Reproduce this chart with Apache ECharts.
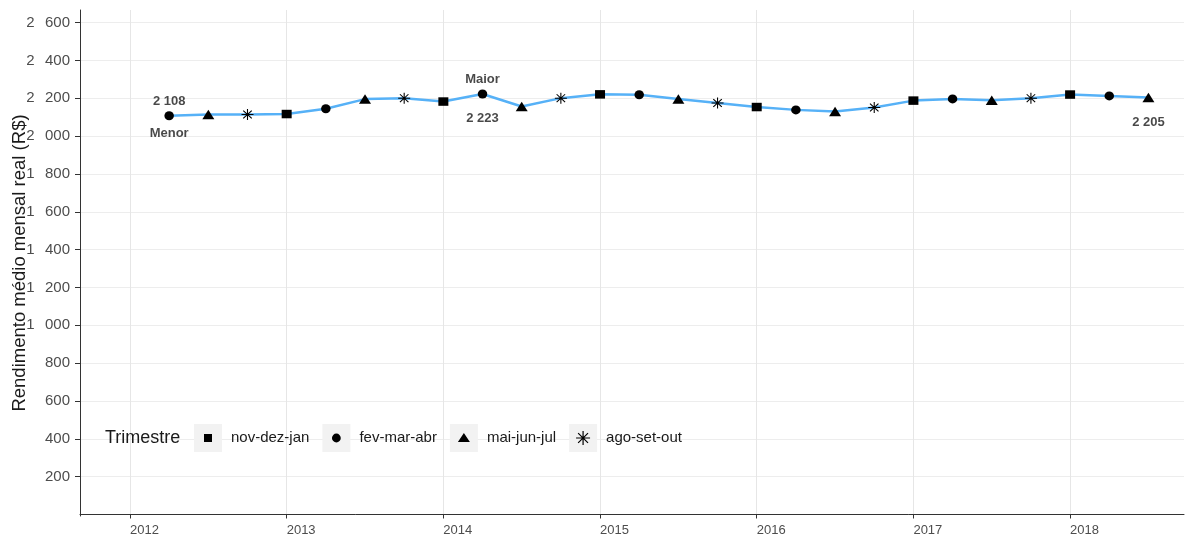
<!DOCTYPE html>
<html>
<head>
<meta charset="utf-8">
<script src="https://cdn.jsdelivr.net/npm/echarts@6/dist/echarts.min.js"></script>
<style>
  html, body { margin: 0; padding: 0; background: #fff; }
  #chart { width: 1186px; height: 536px; }
</style>
</head>
<body>
<div id="chart"></div>
<script>
// dados (trimestres moveis)
var periodos = [2012.25, 2012.5, 2012.75, 2013, 2013.25, 2013.5, 2013.75, 2014, 2014.25, 2014.5, 2014.75,
    2015, 2015.25, 2015.5, 2015.75, 2016, 2016.25, 2016.5, 2016.75, 2017, 2017.25, 2017.5, 2017.75,
    2018, 2018.25, 2018.5];
var trimestres = ['fev-mar-abr', 'mai-jun-jul', 'ago-set-out', 'nov-dez-jan', 'fev-mar-abr', 'mai-jun-jul',
    'ago-set-out', 'nov-dez-jan', 'fev-mar-abr', 'mai-jun-jul', 'ago-set-out', 'nov-dez-jan', 'fev-mar-abr',
    'mai-jun-jul', 'ago-set-out', 'nov-dez-jan', 'fev-mar-abr', 'mai-jun-jul', 'ago-set-out', 'nov-dez-jan',
    'fev-mar-abr', 'mai-jun-jul', 'ago-set-out', 'nov-dez-jan', 'fev-mar-abr', 'mai-jun-jul'];
var rendimento = [2108, 2115, 2115, 2117, 2145, 2196, 2201, 2183, 2223, 2157, 2201, 2221, 2219,
    2196, 2175, 2154, 2139, 2131, 2152, 2188, 2197, 2190, 2201, 2220, 2213, 2205];

var nomesTrimestre = ['nov-dez-jan', 'fev-mar-abr', 'mai-jun-jul', 'ago-set-out'];
var anos = [2012, 2013, 2014, 2015, 2016, 2017, 2018];
var ticksY = [200, 400, 600, 800, 1000, 1200, 1400, 1600, 1800, 2000, 2200, 2400, 2600];

var fonte = '"Liberation Sans", Arial, sans-serif';

function fmt(v, sep) {
    return String(Math.round(v)).replace(/\B(?=(\d{3})+(?!\d))/g, sep);
}

// asterisco (plus + x) para os pontos
var asterisco = 'path://M9.1 0L10.9 0L10.9 20L9.1 20Z' +
    'M0 9.1L20 9.1L20 10.9L0 10.9Z' +
    'M3.57 2.29L17.71 16.43L16.43 17.71L2.29 3.57Z' +
    'M16.43 2.29L17.71 3.57L3.57 17.71L2.29 16.43Z';

var simbolos = {
    'nov-dez-jan': { symbol: 'rect', size: [10, 8.5] },
    'fev-mar-abr': { symbol: 'circle', size: [9.5, 9] },
    'mai-jun-jul': { symbol: 'triangle', size: [12, 9.5] },
    'ago-set-out': { symbol: asterisco, size: [12, 11] }
};

// icones da legenda dentro de uma caixa 28x28 (cantos marcam o tamanho)
var caixa = 'M0 0L0.01 0.01ZM28 28L27.99 27.99Z';
var iconesLegenda = {
    'nov-dez-jan': 'path://' + caixa + 'M10 10L18 10L18 18L10 18Z',
    'fev-mar-abr': 'path://' + caixa + 'M9.6 14A4.4 4.4 0 1 1 18.4 14A4.4 4.4 0 1 1 9.6 14Z',
    'mai-jun-jul': 'path://' + caixa + 'M8 18L14 9L20 18Z',
    'ago-set-out': 'path://' + caixa + 'M13.4 7L14.6 7L14.6 21L13.4 21Z' +
        'M7 13.4L21 13.4L21 14.6L7 14.6Z' +
        'M9.47 8.63L19.37 18.53L18.53 19.37L8.63 9.47Z' +
        'M18.53 8.63L19.37 9.47L9.47 19.37L8.63 18.53Z'
};

var linha = periodos.map(function (p, i) { return [p, rendimento[i]]; });

var seriesPontos = nomesTrimestre.map(function (nome) {
    var pts = [];
    for (var i = 0; i < periodos.length; i++) {
        if (trimestres[i] === nome) pts.push([periodos[i], rendimento[i]]);
    }
    return {
        name: nome,
        type: 'scatter',
        data: pts,
        symbol: simbolos[nome].symbol,
        symbolSize: simbolos[nome].size,
        itemStyle: { color: '#000', opacity: 1 },
        z: 3
    };
});

// destaques: menor, maior e ultimo valor
var iMin = rendimento.indexOf(Math.min.apply(null, rendimento));
var iMax = rendimento.indexOf(Math.max.apply(null, rendimento));
var iUlt = rendimento.length - 1;

var rotulosCima = [
    { value: [periodos[iMin], rendimento[iMin]], label: { formatter: fmt(rendimento[iMin], ' '), distance: 8 } },
    { value: [periodos[iMax], rendimento[iMax]], label: { formatter: 'Maior', distance: 8 } }
];
var rotulosBaixo = [
    { value: [periodos[iMin], rendimento[iMin]], label: { formatter: 'Menor', distance: 11 } },
    { value: [periodos[iMax], rendimento[iMax]], label: { formatter: fmt(rendimento[iMax], ' '), distance: 18 } },
    { value: [periodos[iUlt], rendimento[iUlt]], label: { formatter: fmt(rendimento[iUlt], ' '), distance: 19 } }
];

var estiloRotulo = { show: true, fontFamily: fonte, fontSize: 13, fontWeight: 'bold', color: '#1A1A1A' };

var legendaBase = {
    left: 194,
    top: 424,
    orient: 'horizontal',
    itemWidth: 28,
    itemHeight: 28,
    itemGap: 13,
    selectedMode: false,
    padding: 0
};

var chart = echarts.init(document.getElementById('chart'));
chart.setOption({
    animation: false,
    backgroundColor: '#fff',
    title: {
        text: 'Trimestre',
        left: 105,
        top: 429,
        padding: 0,
        textStyle: { fontFamily: fonte, fontSize: 18, fontWeight: 'normal', color: '#1A1A1A' }
    },
    legend: [
        Object.assign({}, legendaBase, {
            z: 3,
            icon: 'rect',
            itemStyle: { color: '#F2F2F2', borderWidth: 0 },
            textStyle: { fontFamily: fonte, fontSize: 15, color: 'rgba(0,0,0,0)', padding: [0, 0, 0, 4] },
            data: nomesTrimestre
        }),
        Object.assign({}, legendaBase, {
            z: 4,
            itemStyle: { opacity: 1 },
            textStyle: { fontFamily: fonte, fontSize: 15, color: '#1A1A1A', padding: [0, 0, 0, 4] },
            data: nomesTrimestre.map(function (n) { return { name: n, icon: iconesLegenda[n] }; })
        })
    ],
    grid: { left: 80, right: 2, top: 10, bottom: 20, outerBoundsMode: 'none', containLabel: false },
    xAxis: {
        type: 'value',
        min: 2011.681,
        max: 2018.727,
        axisLine: { show: true, lineStyle: { color: '#333', width: 1 } },
        axisTick: { show: true, length: 4, lineStyle: { color: '#333' }, customValues: anos },
        axisLabel: {
            customValues: anos,
            formatter: function (v) { return String(v); },
            align: 'left',
            margin: 8,
            color: '#4D4D4D',
            fontFamily: fonte,
            fontSize: 13
        },
        splitLine: { show: true, lineStyle: { color: '#E6E6E6', width: 1 } }
    },
    yAxis: {
        type: 'value',
        min: -8,
        max: 2667,
        name: 'Rendimento médio mensal real (R$)',
        nameLocation: 'middle',
        nameGap: 51,
        nameMoveOverlap: false,
        nameTextStyle: { fontFamily: fonte, fontSize: 18.5, color: '#1A1A1A' },
        axisLine: { show: true, lineStyle: { color: '#333', width: 1 } },
        axisTick: { show: true, length: 5, lineStyle: { color: '#333' }, customValues: ticksY },
        axisLabel: {
            customValues: ticksY,
            formatter: function (v) { return fmt(v, '\u2002\u2009'); },
            margin: 10,
            color: '#4D4D4D',
            fontFamily: fonte,
            fontSize: 15
        },
        splitLine: { show: true, lineStyle: { color: '#EDEDED', width: 1 } }
    },
    series: [
        {
            name: 'Rendimento',
            type: 'line',
            data: linha,
            symbol: 'none',
            lineStyle: { color: '#56B1F7', width: 2.5 },
            z: 2
        }
    ].concat(seriesPontos).concat([
        {
            name: 'rotulosCima',
            type: 'scatter',
            data: rotulosCima,
            symbolSize: 0,
            silent: true,
            label: Object.assign({ position: 'top' }, estiloRotulo),
            z: 4
        },
        {
            name: 'rotulosBaixo',
            type: 'scatter',
            data: rotulosBaixo,
            symbolSize: 0,
            silent: true,
            label: Object.assign({ position: 'bottom' }, estiloRotulo),
            z: 4
        }
    ])
});
</script>
</body>
</html>
